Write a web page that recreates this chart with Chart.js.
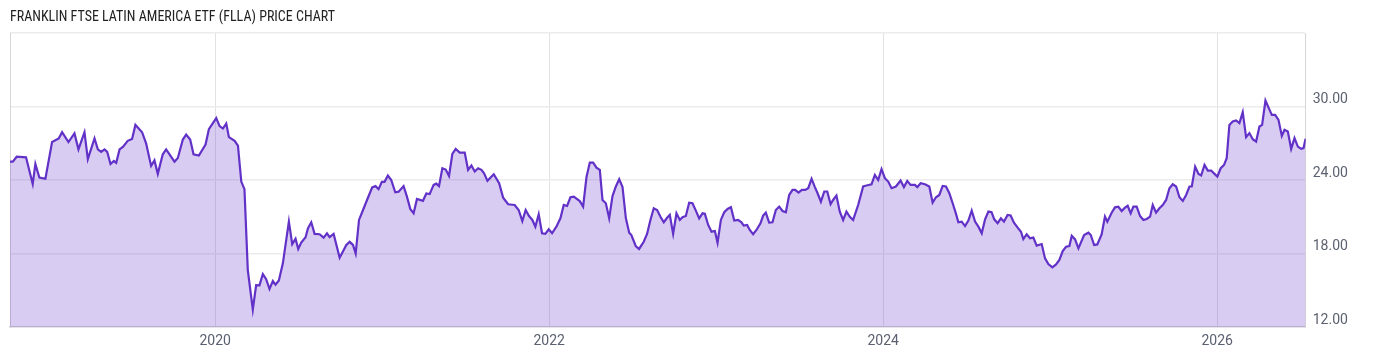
<!DOCTYPE html>
<html>
<head>
<meta charset="utf-8">
<script src="https://cdn.jsdelivr.net/npm/chart.js@4.4.1/dist/chart.umd.min.js"></script>
<style>
  html, body { margin: 0; padding: 0; background: #ffffff; }
  #wrap { width: 1400px; height: 357px; position: relative; }
</style>
</head>
<body>
<div id="wrap"><canvas id="c" width="1400" height="357"></canvas></div>
<script>
// Dates as decimal years, prices in USD
const dates = [
  2018.771, 2018.788, 2018.811, 2018.867, 2018.907, 2018.923, 2018.947, 2018.983, 2019.023, 2019.063,
  2019.083, 2019.121, 2019.157, 2019.181, 2019.217, 2019.237, 2019.277, 2019.297, 2019.317, 2019.337,
  2019.353, 2019.373, 2019.393, 2019.407, 2019.427, 2019.447, 2019.476, 2019.502, 2019.522, 2019.562,
  2019.586, 2019.616, 2019.636, 2019.656, 2019.686, 2019.706, 2019.756, 2019.776, 2019.806, 2019.826,
  2019.850, 2019.870, 2019.902, 2019.942, 2019.962, 2020.006, 2020.026, 2020.046, 2020.066, 2020.082,
  2020.116, 2020.136,
  2020.156, 2020.175, 2020.195, 2020.225, 2020.245, 2020.265, 2020.285, 2020.305, 2020.325, 2020.345,
  2020.361, 2020.381, 2020.405, 2020.441, 2020.461, 2020.481, 2020.497, 2020.515, 2020.541, 2020.555,
  2020.575, 2020.595, 2020.625, 2020.649, 2020.669, 2020.685, 2020.709, 2020.745, 2020.785, 2020.805,
  2020.825, 2020.841, 2020.861, 2020.885, 2020.909, 2020.940, 2020.960, 2020.978, 2020.998, 2021.014,
  2021.034, 2021.054, 2021.078, 2021.098, 2021.128, 2021.148, 2021.168, 2021.188, 2021.208,
  2021.244, 2021.264, 2021.284, 2021.308, 2021.324, 2021.340, 2021.360, 2021.380, 2021.400, 2021.420,
  2021.440, 2021.464, 2021.494, 2021.514, 2021.534, 2021.554, 2021.574, 2021.594, 2021.610, 2021.630,
  2021.668, 2021.700, 2021.724, 2021.754, 2021.793, 2021.817, 2021.839, 2021.859, 2021.879, 2021.899,
  2021.917, 2021.937, 2021.957, 2021.977, 2021.997, 2022.017, 2022.043, 2022.067, 2022.087, 2022.107,
  2022.127, 2022.147, 2022.183, 2022.203, 2022.223, 2022.243, 2022.263, 2022.283, 2022.303, 2022.319,
  2022.339, 2022.359, 2022.379, 2022.399, 2022.419, 2022.439, 2022.459, 2022.479, 2022.492, 2022.518,
  2022.538,
  2022.566, 2022.586, 2022.606, 2022.626, 2022.646, 2022.666, 2022.686, 2022.706, 2022.722, 2022.742,
  2022.762, 2022.782, 2022.798, 2022.818, 2022.838, 2022.858, 2022.878, 2022.898, 2022.918, 2022.932,
  2022.952, 2022.972, 2022.992, 2023.008, 2023.028, 2023.048, 2023.068, 2023.088, 2023.108, 2023.131,
  2023.151, 2023.165, 2023.185, 2023.201, 2023.221, 2023.241, 2023.265, 2023.281, 2023.297, 2023.317,
  2023.337, 2023.357, 2023.377, 2023.397, 2023.417, 2023.437, 2023.457, 2023.473, 2023.493, 2023.513,
  2023.533, 2023.551, 2023.571, 2023.591, 2023.607, 2023.627, 2023.647, 2023.665, 2023.685, 2023.700,
  2023.720, 2023.740, 2023.760, 2023.780, 2023.800, 2023.820, 2023.850,
  2023.880, 2023.900, 2023.930, 2023.950, 2023.970, 2023.990, 2024.010, 2024.030, 2024.050, 2024.076,
  2024.104, 2024.124, 2024.144, 2024.164, 2024.190, 2024.204, 2024.224, 2024.250, 2024.276, 2024.296,
  2024.316, 2024.336, 2024.356, 2024.376, 2024.396, 2024.416, 2024.436, 2024.450, 2024.470, 2024.490,
  2024.510, 2024.530, 2024.550, 2024.570, 2024.590, 2024.610, 2024.630, 2024.649, 2024.665, 2024.685,
  2024.705, 2024.723, 2024.745, 2024.763, 2024.783, 2024.803, 2024.825, 2024.839, 2024.859, 2024.879,
  2024.899, 2024.919, 2024.949, 2024.969, 2024.989, 2025.013, 2025.035, 2025.055, 2025.075, 2025.095,
  2025.115, 2025.129, 2025.149, 2025.169,
  2025.203, 2025.229, 2025.243, 2025.263, 2025.282, 2025.308, 2025.328, 2025.342, 2025.368, 2025.388,
  2025.408, 2025.428, 2025.448, 2025.464, 2025.482, 2025.498, 2025.518, 2025.538, 2025.558, 2025.578,
  2025.598, 2025.614, 2025.634, 2025.654, 2025.674, 2025.694, 2025.714, 2025.734, 2025.754, 2025.774,
  2025.794, 2025.814, 2025.834, 2025.848, 2025.868, 2025.888, 2025.904, 2025.924, 2025.944, 2025.964,
  2025.984, 2026.001, 2026.021, 2026.041, 2026.057, 2026.073, 2026.093, 2026.113, 2026.133, 2026.153,
  2026.173, 2026.193, 2026.213, 2026.233, 2026.253, 2026.269, 2026.289, 2026.309, 2026.327, 2026.347,
  2026.367, 2026.387, 2026.403, 2026.423, 2026.443, 2026.463, 2026.483, 2026.503, 2026.517, 2026.529
];
const prices = [
  25.5, 25.5, 25.9, 25.85, 23.68, 25.3, 24.2, 24.1, 27.1, 27.4,
  27.9, 27.1, 27.8, 26.5, 27.9, 25.7, 27.4, 26.5, 26.3, 26.5,
  26.3, 25.3, 25.55, 25.4, 26.5, 26.7, 27.2, 27.35, 28.5, 27.9,
  27.0, 25.15, 25.6, 24.5, 26.1, 26.5, 25.5, 25.8, 27.3, 27.7,
  27.3, 26.1, 26.0, 26.9, 28.15, 29.05, 28.4, 28.2, 28.6, 27.5,
  27.2, 26.8,
  23.87, 23.25, 16.65, 13.43, 15.42, 15.4, 16.32, 15.9, 15.1, 15.75,
  15.45, 15.8, 17.2, 20.6, 18.77, 19.2, 18.37, 18.9, 19.33, 20.05,
  20.55, 19.6, 19.57, 19.3, 19.65, 19.33, 19.6, 17.65, 18.7, 18.95,
  18.7, 18.0, 20.74, 21.55, 22.37, 23.4, 23.5, 23.25, 23.85, 23.85,
  24.36, 24.0, 23.0, 23.05, 23.5, 22.64, 21.64, 21.28, 22.45,
  22.3, 22.9, 22.85, 23.6, 23.7, 23.5, 24.96, 24.85, 24.33, 26.13,
  26.54, 26.24, 26.24, 24.83, 25.18, 24.7, 24.96, 24.83, 24.55, 23.93,
  24.47, 23.74, 22.56, 22.02, 21.96, 21.55, 20.65, 21.55, 21.06, 20.74,
  20.19, 21.2, 19.65, 19.6, 19.97, 19.65, 20.19, 20.87, 21.96, 21.88,
  22.59, 22.64, 22.28, 21.83, 24.22, 25.42, 25.42, 25.01, 24.83, 22.37,
  22.1, 20.87, 22.69, 23.47, 24.06, 23.42, 20.87, 19.7, 19.51, 18.61,
  18.37,
  18.96, 19.6, 20.74, 21.69, 21.55, 21.0, 20.55, 20.92, 21.15, 19.6,
  21.28, 20.74, 20.96, 21.06, 22.15, 22.1, 21.5, 20.87, 21.28, 21.24,
  20.33, 19.78, 19.84, 18.88, 20.74, 21.37, 21.64, 21.78, 20.69, 20.74,
  20.55, 20.28, 20.33, 19.92, 19.57, 19.92, 20.47, 21.1, 21.33, 20.52,
  20.55, 21.55, 21.83, 21.47, 21.37, 22.78, 23.19, 23.19, 22.97, 23.19,
  23.19, 23.33, 24.09, 23.42, 22.92, 22.23, 23.06, 23.06, 22.02, 22.37,
  22.73, 21.42, 20.74, 21.42, 21.0, 20.74, 21.96,
  23.47, 23.55, 23.65, 24.42, 24.0, 24.88, 24.15, 23.87, 23.33, 23.47,
  23.96, 23.42, 23.93, 23.6, 23.6, 23.42, 23.74, 23.65, 23.47, 22.15,
  22.59, 22.78, 23.52, 23.47, 22.92, 22.1, 21.23, 20.55, 20.6, 20.24,
  20.69, 21.5, 20.6, 20.19, 19.65, 20.79, 21.42, 21.37, 20.79, 20.47,
  20.87, 20.6, 21.15, 21.1, 20.52, 20.15, 19.78, 19.18, 19.57, 19.24,
  19.3, 18.64, 18.77, 17.6, 17.14, 16.87, 17.11, 17.47, 18.2, 18.55,
  18.61, 19.45, 19.15, 18.42,
  19.51, 19.7, 19.51, 18.69, 18.74, 19.56, 21.01, 20.6, 21.33, 21.77,
  21.82, 21.47, 21.74, 21.9, 21.28, 21.82, 21.82, 21.06, 20.74, 20.82,
  21.01, 21.96, 21.33, 21.69, 21.96, 22.37, 23.33, 23.65, 23.47, 22.59,
  22.29, 22.78, 23.47, 23.47, 25.09, 24.5, 24.37, 25.23, 24.77, 24.77,
  24.5, 24.28, 24.96, 25.23, 25.78, 28.5, 28.77, 28.86, 28.64, 29.54,
  27.5, 27.83, 27.33, 27.14, 28.37, 28.5, 30.49, 29.87, 29.32, 29.32,
  28.91, 27.6, 28.1, 27.96, 26.54, 27.42, 26.73, 26.54, 26.6, 27.37
];
const yearTicks = [2020, 2022, 2024, 2026];
const priceTicks = [12, 18, 24, 30, 36];
const xRange = [2018.771, 2026.530];
const yRange = [12, 36];
const titleText = 'FRANKLIN FTSE LATIN AMERICA ETF (FLLA) PRICE CHART';

const points = dates.map((d, i) => ({ x: d, y: prices[i] }));

new Chart(document.getElementById('c'), {
  type: 'line',
  data: {
    datasets: [{
      data: points,
      borderColor: '#6232c8',
      borderWidth: 2.2,
      backgroundColor: 'rgba(102, 51, 204, 0.25)',
      fill: 'start',
      pointRadius: 0,
      tension: 0,
      yAxisID: 'y'
    }]
  },
  options: {
    responsive: false,
    animation: false,
    parsing: false,
    layout: { padding: { left: 10, right: 0, top: 0, bottom: 0 } },
    plugins: {
      legend: { display: false },
      tooltip: { enabled: false },
      title: {
        display: true,
        text: titleText,
        align: 'start',
        color: '#222222',
        font: { family: "'Roboto Condensed', 'Liberation Sans Narrow', 'DejaVu Sans Condensed', Roboto, sans-serif", size: 14, weight: 'normal' },
        padding: { top: 9, bottom: 7.2 }
      }
    },
    scales: {
      x: {
        type: 'linear',
        min: xRange[0],
        max: xRange[1],
        afterBuildTicks: (s) => { s.ticks = yearTicks.map(v => ({ value: v })); },
        afterFit: (s) => { s.height = 30; },
        grid: { color: '#e2e2e2', lineWidth: 1, drawTicks: false },
        border: { display: true, color: '#d6d6d6', width: 1.5 },
        ticks: {
          padding: 6,
          color: '#5b6170',
          font: { family: 'Roboto', size: 14 },
          callback: (v) => String(v)
        }
      },
      y: {
        type: 'linear',
        position: 'right',
        min: yRange[0],
        max: yRange[1],
        afterBuildTicks: (s) => { s.ticks = priceTicks.map(v => ({ value: v })); },
        afterFit: (s) => { s.width = 94.3; },
        grid: { color: '#ececec', lineWidth: 1.5, drawTicks: false },
        border: { display: true, color: '#d6d6d6', width: 1 },
        ticks: {
          padding: 7,
          labelOffset: -7,
          color: '#5b6170',
          font: { family: 'Roboto', size: 14 },
          callback: (v) => (v === yRange[1] ? '' : Number(v).toFixed(2))
        }
      },
      yl: {
        type: 'linear',
        position: 'left',
        grid: { display: false, drawTicks: false },
        border: { display: true, color: '#d6d6d6', width: 1 },
        ticks: { display: false }
      }
    }
  }
});
</script>
</body>
</html>
